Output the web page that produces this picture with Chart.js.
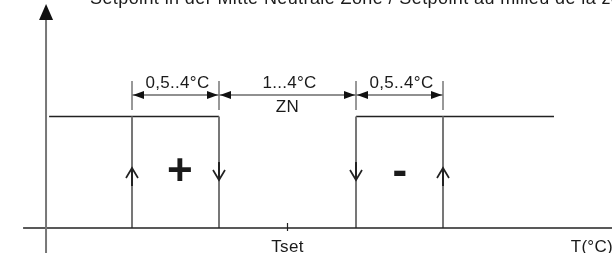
<!DOCTYPE html>
<html><head><meta charset="utf-8">
<script src="https://cdn.jsdelivr.net/npm/chart.js@4/dist/chart.umd.min.js"></script>
<style>html,body{margin:0;padding:0;background:#fff}#wrap{width:612px;height:253px}</style>
</head><body>
<div id="wrap"><canvas id="c"></canvas></div>
<script>
// ---- data (x: temperature offset from Tset, y: 0 = off, 1 = on) ----
const titleText = 'Setpoint in der Mitte Neutrale Zone / Setpoint au milieu de la zone neutre';
const switchPoints = [-4.54, -2, 2, 4.54];          // hysteresis / neutral zone edges
const onLevel = 1, offLevel = 0;
const lineStartX = -6.96, lineEndX = 7.78;          // extent of the "on" plateaus
const axisOriginX = -7.05, axisStartX = -7.72;
const xMin = -8.394, xMax = 9.474, yMin = -0.2242, yMax = 2.0448;
const yArrowTip = 2.009, yArrowBase = 1.865;
const dimY = 1.193, dimTickTop = 1.318, dimTickBottom = 1.058;
const dimLabels = ['0,5..4°C', '1...4°C', '0,5..4°C'];
const dimLabelY = 1.256;
const zoneLabel = 'ZN', zoneLabelY = 1.04;
const xTickValues = [0];
const xTickLabels = ['Tset'];
const xAxisTitle = 'T(°C)';
const signLabels = ['+', '-'];
const signX = [-3.14, 3.28];
const signY = 0.493;
const upArrows = [-4.54, 4.54], upArrowY = 0.538;
const downArrows = [-2, 2], downArrowY = 0.43;

const seg = (x1, y1, x2, y2) => [{x: x1, y: y1}, {x: x2, y: y2}, {x: x2, y: null}];

const horizData = [
  ...seg(lineStartX, onLevel, switchPoints[1], onLevel),
  ...seg(switchPoints[2], onLevel, lineEndX, onLevel)
];
const vertData = switchPoints.flatMap(x => seg(x, offLevel, x, onLevel));
const dimTickData = switchPoints.flatMap(x => seg(x, dimTickBottom, x, dimTickTop));
const dimLineData = [0, 1, 2].flatMap(i => seg(switchPoints[i], dimY, switchPoints[i + 1], dimY));
const xAxisData = seg(axisStartX, 0, xMax, 0);
const yAxisData = seg(axisOriginX, yMin, axisOriginX, yArrowBase + 0.02);
const tickData = xTickValues.flatMap(x => seg(x, 0.045, x, -0.027));

function ds(data, color, width) {
  return {data, borderColor: color, borderWidth: width, pointRadius: 0, showLine: true,
          spanGaps: false, fill: false, tension: 0, borderCapStyle: 'butt'};
}

const annot = {
  id: 'annot',
  afterDatasetsDraw(chart) {
    const {ctx, scales: {x, y}} = chart;
    const px = v => x.getPixelForValue(v), py = v => y.getPixelForValue(v);
    ctx.save();
    ctx.fillStyle = '#111';
    // y axis arrow head
    ctx.beginPath();
    ctx.moveTo(px(axisOriginX), py(yArrowTip));
    ctx.lineTo(px(axisOriginX) - 7, py(yArrowBase));
    ctx.lineTo(px(axisOriginX) + 7, py(yArrowBase));
    ctx.closePath(); ctx.fill();
    // dimension arrow heads
    for (let i = 0; i < 3; i++) {
      const a = px(switchPoints[i]) + 1, b = px(switchPoints[i + 1]) - 1, yy = py(dimY);
      ctx.beginPath();
      ctx.moveTo(a, yy); ctx.lineTo(a + 11, yy - 4); ctx.lineTo(a + 11, yy + 4); ctx.closePath(); ctx.fill();
      ctx.beginPath();
      ctx.moveTo(b, yy); ctx.lineTo(b - 11, yy - 4); ctx.lineTo(b - 11, yy + 4); ctx.closePath(); ctx.fill();
    }
    // chevrons on switching lines
    ctx.strokeStyle = '#222'; ctx.lineWidth = 1.7;
    upArrows.forEach(v => {
      const cx = px(v), cy = py(upArrowY);
      ctx.beginPath(); ctx.moveTo(cx - 6, cy + 10); ctx.lineTo(cx, cy); ctx.lineTo(cx + 6, cy + 10); ctx.stroke();
      ctx.lineWidth = 2; ctx.beginPath(); ctx.moveTo(cx, cy); ctx.lineTo(cx, cy + 18); ctx.stroke(); ctx.lineWidth = 1.7;
    });
    downArrows.forEach(v => {
      const cx = px(v), cy = py(downArrowY);
      ctx.beginPath(); ctx.moveTo(cx - 6, cy - 10); ctx.lineTo(cx, cy); ctx.lineTo(cx + 6, cy - 10); ctx.stroke();
      ctx.lineWidth = 2; ctx.beginPath(); ctx.moveTo(cx, cy); ctx.lineTo(cx, cy - 18); ctx.stroke(); ctx.lineWidth = 1.7;
    });
    // texts
    ctx.fillStyle = '#1a1a1a';
    ctx.textBaseline = 'alphabetic';
    ctx.font = '18px "Liberation Sans", Arial, sans-serif';
    ctx.letterSpacing = '0.4px';
    ctx.textAlign = 'left';
    ctx.fillText(titleText, 90, 4);
    ctx.font = '17px "Liberation Sans", Arial, sans-serif';
    ctx.letterSpacing = '0.3px';
    ctx.textAlign = 'center';
    dimLabels.forEach((t, i) => {
      ctx.fillText(t, (px(switchPoints[i]) + px(switchPoints[i + 1])) / 2 + 2, py(dimLabelY));
    });
    ctx.fillText(zoneLabel, px(0), py(zoneLabelY));
    xTickValues.forEach((v, i) => ctx.fillText(xTickLabels[i], px(v), 252));
    ctx.textAlign = 'right';
    ctx.fillText(xAxisTitle, 613, 252);
    ctx.letterSpacing = '0px';
    ctx.textAlign = 'center'; ctx.textBaseline = 'middle';
    ctx.font = 'bold 44px "Liberation Sans", Arial, sans-serif';
    signLabels.forEach((t, i) => ctx.fillText(t, px(signX[i]), py(signY)));
    ctx.restore();
  }
};

new Chart(document.getElementById('c'), {
  type: 'scatter',
  data: {datasets: [
    ds(yAxisData, '#777', 2),
    ds(xAxisData, '#222', 1.5),
    ds(tickData, '#222', 1.2),
    ds(vertData, '#777', 2),
    ds(horizData, '#222', 1.5),
    ds(dimTickData, '#777', 1.5),
    ds(dimLineData, '#222', 1.2)
  ]},
  options: {
    responsive: true, maintainAspectRatio: false, animation: false,
    layout: {padding: 0},
    plugins: {legend: {display: false}, tooltip: {enabled: false}, title: {display: false}},
    scales: {
      x: {type: 'linear', display: false, min: xMin, max: xMax},
      y: {type: 'linear', display: false, min: yMin, max: yMax}
    }
  },
  plugins: [annot]
});
</script>
</body></html>
